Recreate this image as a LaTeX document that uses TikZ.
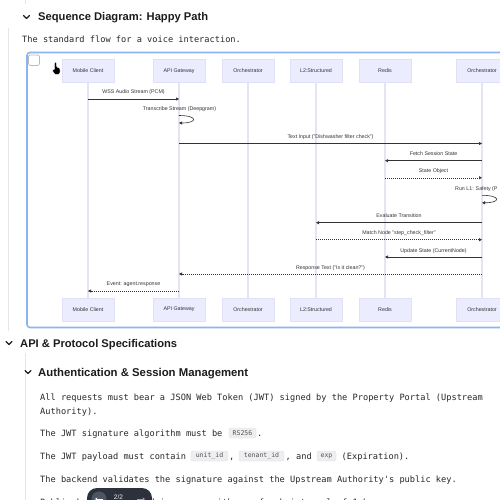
\documentclass[tikz,border=0pt]{standalone}
\usepackage{fontspec}
\setmainfont{Liberation Sans}
\newfontfamily\monof{DejaVu Sans Mono}
\usetikzlibrary{arrows.meta}
\definecolor{headtext}{RGB}{28,28,30}
\definecolor{monotext}{RGB}{40,40,42}
\definecolor{guide}{RGB}{230,230,232}
\definecolor{blueborder}{RGB}{140,180,238}
\definecolor{actorfill}{RGB}{236,236,255}
\definecolor{actorline}{RGB}{224,224,246}
\definecolor{lifeline}{RGB}{228,228,242}
\definecolor{msgline}{RGB}{51,51,51}
\definecolor{msgtext}{RGB}{51,51,51}
\definecolor{codefill}{RGB}{238,238,240}
\definecolor{codeline}{RGB}{224,224,228}
\definecolor{codetext}{RGB}{85,85,90}
\definecolor{pilldark}{RGB}{44,49,60}
\definecolor{pillcirc}{RGB}{78,85,99}
\begin{document}
\begin{tikzpicture}[x=1pt,y=-1pt,
  actor/.style={draw=actorline, line width=0.5pt, fill=actorfill, minimum width=52pt, minimum height=22.5pt, inner sep=0pt, text=msgtext, font=\fontsize{5.3}{6}\selectfont},
  life/.style={draw=lifeline, line width=1.4pt},
  msg/.style={draw=msgline, line width=0.6pt, -{Triangle[length=3pt,width=3pt]}},
  dmsg/.style={msg, dash pattern=on 1.1pt off 0.9pt},
  lbl/.style={font=\fontsize{5.3}{6}\selectfont, text=msgtext, inner sep=0pt, anchor=base},
  head/.style={font=\bfseries, text=headtext, inner sep=0pt, anchor=base west},
  mono/.style={font=\monof\fontsize{8.65}{10}\selectfont, text=monotext, inner sep=0pt, anchor=base west},
  code/.style={draw=codeline, line width=0.4pt, fill=codefill, rounded corners=2pt, inner sep=0pt, minimum height=10pt, text=codetext, font=\monof\fontsize{6.5}{7}\selectfont},
  chev/.style={draw=headtext, line width=1.1pt, line cap=round, line join=round},
  guideline/.style={draw=guide, line width=0.8pt}]
\useasboundingbox (0,0) rectangle (500,500);
\clip (0,0) rectangle (500,500);
\fill[white] (0,0) rectangle (500,500);

% guide lines
\draw[guideline] (25.5,0) -- (25.5,4);
\draw[guideline] (8,28) -- (8,331);
\draw[guideline] (25.5,353) -- (25.5,500);

% header 1
\draw[chev] (23.5,15.5) -- (26.5,18.5) -- (29.5,15.5);
\node[head] (h1) at (38,21) {\resizebox{170pt}{!}{Sequence Diagram: Happy Path}};
\node[mono] (d1) at (22,43) {The standard flow for a voice interaction.};

% diagram frame
\draw[blueborder, line width=1.6pt, rounded corners=3pt] (27,52.5) rectangle (530,327.5);
\draw[gray!55, line width=0.7pt, rounded corners=2pt, fill=white] (28.5,55) rectangle (39.5,65.5);
% hand cursor
\fill[black, draw=white, line width=0.4pt, rounded corners=0.8pt]
  (54.3,62.5) -- (56.6,62.5) -- (56.6,67) -- (59.8,68) -- (60.2,72.5) -- (58.6,74.5) -- (55,74.5) -- (52.3,70.5) -- (53,69.3) -- (54.3,70) -- cycle;

% participants
\node[actor] (mcT) at (88,71) {Mobile Client};
\node[actor] (agT) at (179,71) {API Gateway};
\node[actor] (orT) at (248,71) {Orchestrator};
\node[actor] (l2T) at (316,71) {L2:Structured};
\node[actor] (rdT) at (385,71) {Redis};
\node[actor] (o2T) at (482,71) {Orchestrator};
\node[actor] (mcB) at (88,309.5) {Mobile Client};
\node[actor] (agB) at (179,309.5) {API Gateway};
\node[actor] (orB) at (248,309.5) {Orchestrator};
\node[actor] (l2B) at (316,309.5) {L2:Structured};
\node[actor] (rdB) at (385,309.5) {Redis};
\node[actor] (o2B) at (482,309.5) {Orchestrator};

% lifelines
\draw[life] (mcT.south) -- (mcB.north);
\draw[life] (agT.south) -- (agB.north);
\draw[life] (orT.south) -- (orB.north);
\draw[life] (l2T.south) -- (l2B.north);
\draw[life] (rdT.south) -- (rdB.north);
\draw[life] (o2T.south) -- (o2B.north);

% messages
\node[lbl] (m1) at (133.5,93.8) {WSS Audio Stream (PCM)};
\draw[msg] (mcT |- 0,99) -- (agT |- 0,99);

\node[lbl] (m2) at (179.5,110.8) {Transcribe Stream (Deepgram)};
\draw[msg] (agT |- 0,115.5) .. controls +(19,0) and +(19,0) .. (agT |- 0,123);

\node[lbl] (m3) at (330.5,138.6) {Text Input ("Dishwasher filter check")};
\draw[msg] (agT |- 0,143.5) -- (o2T |- 0,143.5);

\node[lbl] (m4) at (433.5,155.3) {Fetch Session State};
\draw[msg] (o2T |- 0,160.7) -- (rdT |- 0,160.7);

\node[lbl] (m5) at (433.5,172.9) {State Object};
\draw[dmsg] (rdT |- 0,177.8) -- (o2T |- 0,177.8);

\node[lbl, anchor=base west] (m6) at (455,190.2) {Run L1: Safety (P};
\draw[msg] (o2T |- 0,195.3) .. controls +(19,0) and +(19,0) .. (o2T |- 0,202.8);

\node[lbl] (m7) at (399,217.9) {Evaluate Transition};
\draw[msg] (o2T |- 0,222.7) -- (l2T |- 0,222.7);

\node[lbl] (m8) at (399,234.6) {Match Node "step\_check\_filter"};
\draw[dmsg] (l2T |- 0,239.7) -- (o2T |- 0,239.7);

\node[lbl] (m9) at (433.5,252.4) {Update State (CurrentNode)};
\draw[msg] (o2T |- 0,257) -- (rdT |- 0,257);

\node[lbl] (m10) at (330.5,269.2) {Response Text ("Is it clean?")};
\draw[dmsg] (o2T |- 0,274) -- (agT |- 0,274);

\node[lbl] (m11) at (133.5,285.9) {Event: agent.response};
\draw[dmsg] (agT |- 0,291) -- (mcT |- 0,291);

% header 2
\draw[chev] (6,341.5) -- (9,344.5) -- (12,341.5);
\node[head] (h2) at (20,347) {\resizebox{157pt}{!}{API \& Protocol Specifications}};

% header 3
\draw[chev] (25,370.5) -- (28,373.5) -- (31,370.5);
\node[head] (h3) at (38,376) {\resizebox{210pt}{!}{Authentication \& Session Management}};

% paragraph text
\node[mono] (t1) at (40,400) {All requests must bear a JSON Web Token (JWT) signed by the Property Portal (Upstream};
\node[mono] (t2) at (40,414) {Authority).};

\node[mono] (t3) at (40,436) {The JWT signature algorithm must be};
\node[code, minimum width=27pt] (c1) at (242.5,433) {RS256};
\node[mono] (t3b) at (257,436) {.};

\node[mono] (t4) at (40,459) {The JWT payload must contain};
\node[code, minimum width=37pt] (c2) at (209.5,456) {unit\_id};
\node[mono] (t4b) at (229,459) {,};
\node[code, minimum width=45pt] (c3) at (261.5,456) {tenant\_id};
\node[mono] (t4c) at (285.5,459) {, and};
\node[code, minimum width=19pt] (c4) at (326.5,456) {exp};
\node[mono] (t4d) at (341.5,459) {(Expiration).};

\node[mono] (t5) at (40,482) {The backend validates the signature against the Upstream Authority\textquotesingle s public key.};
\node[mono] (t6) at (40,505) {Public keys are cached in memory with a refresh interval of 1 hour.};

% pager overlay
\fill[pilldark, rounded corners=10pt] (87,488) rectangle (152,520);
\fill[pillcirc] (99,499) circle (7.5);
\draw[white, line width=0.9pt, -{Stealth[length=2.4pt,width=3pt]}] (103,499) -- (95,499);
\node[font=\fontsize{6.5}{7}\selectfont, text=white!85!gray, inner sep=0pt] (pg) at (118.5,497.5) {2/2};
\draw[gray!70, line width=0.9pt, -{Stealth[length=2.4pt,width=3pt]}] (137,499) -- (145,499);
\end{tikzpicture}
\end{document}
